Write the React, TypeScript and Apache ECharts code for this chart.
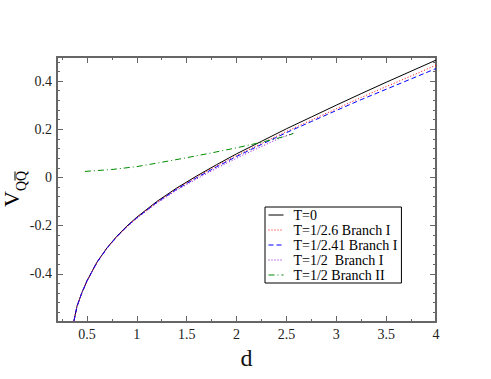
import React, { useEffect, useRef } from 'react';
import * as echarts from 'echarts';

const SERIF = 'Liberation Serif';

// Axis ticks / labels
const xMajorTicks = [0.5, 1, 1.5, 2, 2.5, 3, 3.5, 4];
const xMinorTicks = [0.25, 0.75, 1.25, 1.75, 2.25, 2.75, 3.25, 3.75];
const xTickLabels = ['0.5', '1', '1.5', '2', '2.5', '3', '3.5', '4'];
const yMajorTicks = [-0.4, -0.2, 0, 0.2, 0.4];
const yTickLabels = ['-0.4', '-0.2', '0', '0.2', '0.4'];
const yMinorTicks = [
  -0.56, -0.52, -0.48, -0.44, -0.36, -0.32, -0.28, -0.24, -0.16, -0.12, -0.08, -0.04,
  0.04, 0.08, 0.12, 0.16, 0.24, 0.28, 0.32, 0.36, 0.44, 0.48,
];

// Series names
const seriesNames = [
  'T=0',
  'T=1/2.6 Branch I',
  'T=1/2.41 Branch I',
  'T=1/2  Branch I',
  'T=1/2 Branch II',
];

// Distances (shared for T=0, T=1/2.6, T=1/2.41)
const dFull = [0.37, 0.4, 0.45, 0.5, 0.6, 0.7, 0.8, 0.9, 1.0, 1.2, 1.4, 1.6, 1.8, 2.0, 2.25, 2.5, 2.75, 3.0, 3.25, 3.5, 3.75, 4.0];
const vT0 = [-0.595, -0.536, -0.478, -0.43, -0.352, -0.293, -0.244, -0.202, -0.165, -0.1, -0.044, 0.006, 0.053, 0.098, 0.15, 0.202, 0.251, 0.3, 0.348, 0.395, 0.441, 0.487];
const vT26 = [-0.595, -0.536, -0.478, -0.43, -0.353, -0.294, -0.245, -0.204, -0.167, -0.103, -0.047, 0.002, 0.048, 0.091, 0.141, 0.191, 0.238, 0.285, 0.332, 0.377, 0.421, 0.466];
const vT241 = [-0.595, -0.536, -0.478, -0.43, -0.353, -0.294, -0.246, -0.204, -0.168, -0.104, -0.049, -0.001, 0.044, 0.087, 0.137, 0.186, 0.232, 0.278, 0.323, 0.366, 0.409, 0.452];

// T=1/2 Branch I
const dHalfI = [0.37, 0.4, 0.45, 0.5, 0.6, 0.7, 0.8, 0.9, 1.0, 1.2, 1.4, 1.6, 1.8, 2.0, 2.2, 2.4, 2.5, 2.57];
const vHalfI = [-0.595, -0.536, -0.479, -0.431, -0.354, -0.295, -0.247, -0.206, -0.17, -0.107, -0.053, -0.006, 0.038, 0.08, 0.119, 0.157, 0.174, 0.183];

// T=1/2 Branch II
const dHalfII = [0.48, 0.75, 1.0, 1.25, 1.5, 1.75, 2.0, 2.25, 2.5, 2.57];
const vHalfII = [0.025, 0.033, 0.045, 0.063, 0.082, 0.102, 0.123, 0.146, 0.172, 0.183];

const pairs = (xs: number[], ys: number[]) => xs.map((x, i) => [x, ys[i]]);

const FRAME = '#666';

const labelFor = (vals: number[], texts: string[]) => (v: any) => {
  const n = typeof v === 'number' ? v : Number(v);
  const i = vals.findIndex((t) => Math.abs(t - n) < 1e-6);
  return i >= 0 ? texts[i] : '';
};

export default function App() {
  const ref = useRef<HTMLDivElement>(null);
  useEffect(() => {
    if (!ref.current) return;
    const chart = echarts.init(ref.current, null, { renderer: 'svg' });
    const xBase = { type: 'value', min: 0.2, max: 4, splitLine: { show: false } };
    const yBase = { type: 'value', min: -0.6, max: 0.5, splitLine: { show: false } };
    const noLabel = { show: false, formatter: () => '' };
    const line = (show: boolean) => ({ show, onZero: false, lineStyle: { color: FRAME, width: 2 } });
    const tick = (len: number, vals: number[]) => ({
      show: true, inside: true, length: len, customValues: vals, lineStyle: { color: FRAME, width: 1 },
    });
    const mk = (name: string, data: number[][], color: string, type: any) => ({
      name,
      type: 'line',
      data,
      showSymbol: false,
      symbol: 'none',
      silent: true,
      lineStyle: { color, width: 1, type },
      itemStyle: { color },
    });
    chart.setOption({
      animation: false,
      backgroundColor: '#fff',
      textStyle: { fontFamily: SERIF, fontSize: 14, color: '#222' },
      grid: { left: 57, right: 55, top: 57, bottom: 57, containLabel: false },
      xAxis: [
        {
          ...xBase,
          position: 'bottom',
          interval: 0.1,
          axisLine: line(true),
          axisTick: { show: false },
          axisLabel: {
            show: true,
            margin: 5,
            fontFamily: SERIF,
            fontSize: 14,
            color: '#222',
            hideOverlap: false,
            formatter: labelFor(xMajorTicks, xTickLabels),
          },
          name: 'd',
          nameLocation: 'middle',
          nameGap: 14,
          nameTextStyle: { fontFamily: SERIF, fontSize: 24, color: '#111' },
        },
        { ...xBase, position: 'bottom', axisLine: line(false), axisTick: tick(6, xMajorTicks), axisLabel: noLabel },
        { ...xBase, position: 'bottom', axisLine: line(false), axisTick: tick(3, xMinorTicks), axisLabel: noLabel },
        { ...xBase, position: 'top', axisLine: line(true), axisTick: tick(6, xMajorTicks), axisLabel: noLabel },
        { ...xBase, position: 'top', axisLine: line(false), axisTick: tick(3, xMinorTicks), axisLabel: noLabel },
      ],
      yAxis: [
        {
          ...yBase,
          position: 'left',
          interval: 0.2,
          axisLine: line(true),
          axisTick: { show: false },
          axisLabel: {
            show: true,
            margin: 5,
            fontFamily: SERIF,
            fontSize: 14,
            color: '#222',
            hideOverlap: false,
            formatter: labelFor(yMajorTicks, yTickLabels),
          },
        },
        { ...yBase, position: 'left', axisLine: line(false), axisTick: tick(6, yMajorTicks), axisLabel: noLabel },
        { ...yBase, position: 'left', axisLine: line(false), axisTick: tick(3, yMinorTicks), axisLabel: noLabel },
        { ...yBase, position: 'right', axisLine: line(true), axisTick: tick(6, yMajorTicks), axisLabel: noLabel },
        { ...yBase, position: 'right', axisLine: line(false), axisTick: tick(3, yMinorTicks), axisLabel: noLabel },
      ],
      legend: {
        orient: 'vertical',
        left: 265,
        top: 207,
        padding: [1, 4, 1, 3],
        itemGap: 1,
        itemWidth: 15,
        itemHeight: 14,
        borderColor: '#000',
        borderWidth: 1,
        backgroundColor: '#fff',
        itemStyle: { opacity: 0 },
        lineStyle: { width: 1 },
        textStyle: { fontFamily: SERIF, fontSize: 14, color: '#000', padding: [0, 0, 0, 5] },
        data: seriesNames,
      },
      graphic: [
        {
          type: 'group',
          x: 11,
          y: 207,
          rotation: Math.PI / 2,
          children: [
            { type: 'text', x: 0, y: 0, style: { text: 'V', fontFamily: SERIF, fontSize: 22, fill: '#000', align: 'left', verticalAlign: 'middle' } },
            { type: 'text', x: 16, y: 10.5, style: { text: 'QQ', fontFamily: SERIF, fontSize: 14, fill: '#000', align: 'left', verticalAlign: 'middle' } },
            { type: 'line', shape: { x1: 26.5, y1: 4, x2: 35.5, y2: 4 }, style: { stroke: '#000', lineWidth: 1 } },
          ],
        },
      ],
      series: [
        mk(seriesNames[0], pairs(dFull, vT0), '#000000', 'solid'),
        mk(seriesNames[1], pairs(dFull, vT26), '#ff0000', [1, 2]),
        mk(seriesNames[2], pairs(dFull, vT241), '#0000ff', [5, 3]),
        mk(seriesNames[3], pairs(dHalfI, vHalfI), '#9400d3', [1, 2]),
        mk(seriesNames[4], pairs(dHalfII, vHalfII), '#008b00', [6, 3, 1, 3]),
      ],
    });
    return () => chart.dispose();
  }, []);
  return <div ref={ref} style={{ width: 491, height: 379, position: 'absolute', left: 0, top: 0 }} />;
}
